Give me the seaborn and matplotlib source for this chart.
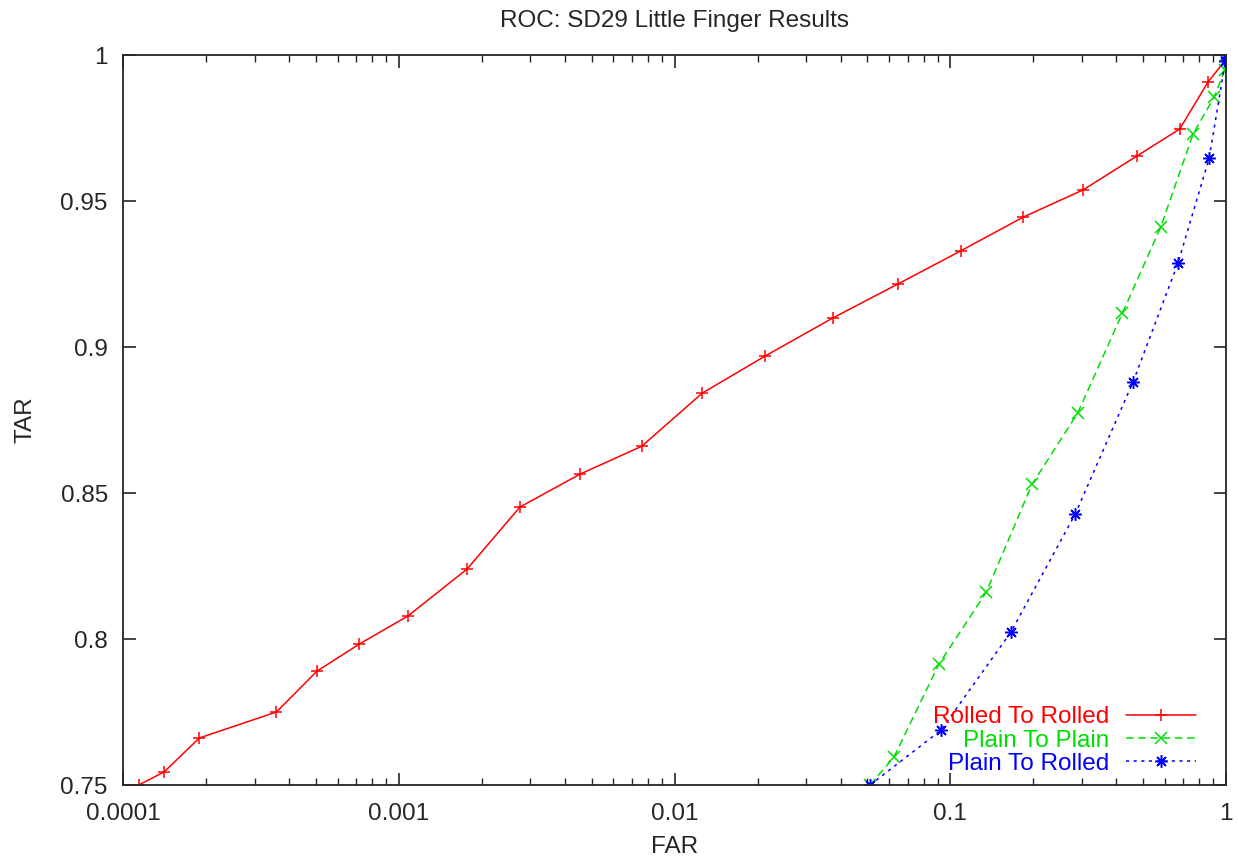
import matplotlib
matplotlib.use("Agg")
import matplotlib.pyplot as plt
import matplotlib.ticker as mticker
import seaborn as sns
import pandas as pd

# ROC 数据
rr_far = [1.14e-4, 1.41e-4, 1.89e-4, 3.6e-4, 5.05e-4, 7.2e-4, 1.08e-3, 1.77e-3,
          2.75e-3, 4.55e-3, 7.6e-3, 0.0126, 0.0213, 0.0376, 0.0646, 0.109,
          0.184, 0.303, 0.475, 0.68, 0.861, 0.99, 1.0]
rr_tar = [0.750, 0.7545, 0.7661, 0.775, 0.789, 0.7983, 0.8079, 0.824,
          0.8452, 0.8565, 0.866, 0.8842, 0.8969, 0.910, 0.9216, 0.9329,
          0.9445, 0.9538, 0.9654, 0.9747, 0.9908, 0.998, 1.0]

pp_far = [0.0512, 0.0625, 0.091, 0.135, 0.198, 0.29, 0.421, 0.58, 0.76, 0.906, 0.99, 1.0]
pp_tar = [0.750, 0.7596, 0.7914, 0.816, 0.853, 0.8774, 0.9116, 0.9411, 0.973, 0.9856, 0.995, 1.0]

pr_far = [0.0512, 0.0926, 0.166, 0.284, 0.46, 0.67, 0.869, 0.995, 1.0]
pr_tar = [0.750, 0.7688, 0.8024, 0.8428, 0.888, 0.9288, 0.9647, 0.998, 1.0]

series = [
    ("Rolled To Rolled", rr_far, rr_tar, "#ff0000", "+", "-"),
    ("Plain To Plain", pp_far, pp_tar, "#00dd00", "x", (0, (5, 3))),
    ("Plain To Rolled", pr_far, pr_tar, "#0000ff", (8, 2, 0), (0, (2, 3))),
]

sns.set_style("ticks")
plt.rcParams['font.family'] = ['Liberation Sans', 'DejaVu Sans']
plt.rcParams['xtick.direction'] = 'in'
plt.rcParams['ytick.direction'] = 'in'
plt.rcParams['xtick.top'] = True
plt.rcParams['ytick.right'] = True

fs = 17.5

fig = plt.figure(figsize=(12.38, 8.6), dpi=100)
ax = fig.add_axes([0.0994, 0.0872, 0.8909, 0.8488])

for name, far, tar, color, marker, ls in series:
    df = pd.DataFrame({'FAR': far, 'TAR': tar})
    sns.lineplot(data=df, x='FAR', y='TAR', ax=ax, color=color, marker=marker,
                 linestyle=ls, linewidth=1.1, markersize=9, markeredgewidth=1.1,
                 markeredgecolor=color, sort=False, estimator=None, label=name)

ax.set_xscale('log')
ax.set_xlim(1e-4, 1)
ax.set_ylim(0.75, 1)
ax.set_xticks([1e-4, 1e-3, 1e-2, 1e-1, 1])
ax.xaxis.set_major_formatter(mticker.FuncFormatter(lambda v, p: '%g' % v))
ax.xaxis.set_minor_locator(mticker.LogLocator(base=10, subs=range(2, 10)))
ax.xaxis.set_minor_formatter(mticker.NullFormatter())
ax.set_yticks([0.75, 0.8, 0.85, 0.9, 0.95, 1])
ax.yaxis.set_major_formatter(mticker.FuncFormatter(lambda v, p: '%g' % v))
ax.tick_params(which='major', length=9, width=1.2, labelsize=fs)
ax.tick_params(axis='x', which='major', pad=13)
ax.tick_params(axis='y', which='major', pad=11)
ax.tick_params(which='minor', length=5, width=1.0)
for s in ax.spines.values():
    s.set_linewidth(1.3)
    s.set_visible(True)

ax.set_xlabel('FAR', fontsize=fs, labelpad=8)
ax.set_ylabel('TAR', fontsize=fs, labelpad=17)
ax.set_title('ROC: SD29 Little Finger Results', fontsize=fs, pad=20)

leg = ax.legend(loc='lower right', bbox_to_anchor=(0.993, -0.016), frameon=False,
                markerfirst=False, fontsize=fs, handlelength=2.9, labelspacing=0.05,
                handletextpad=0.7, labelcolor='linecolor')

fig.savefig('out.png', dpi=100)
